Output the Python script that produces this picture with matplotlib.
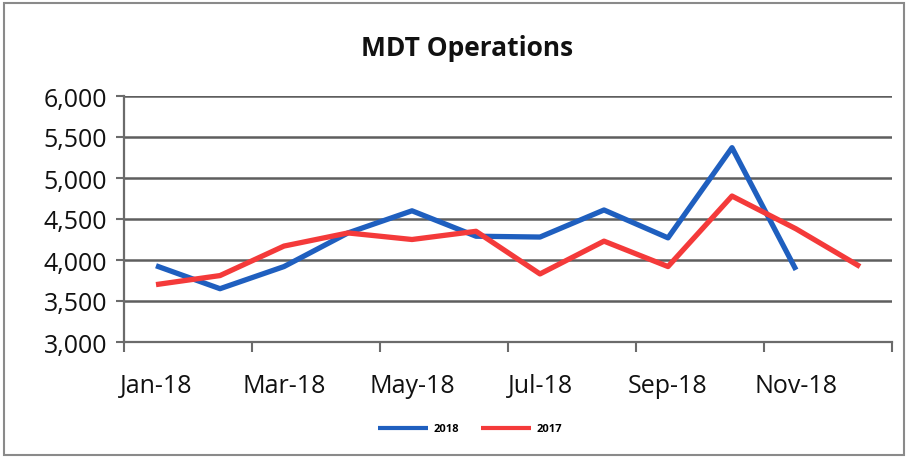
import matplotlib
matplotlib.use("Agg")
import matplotlib.pyplot as plt
from matplotlib.ticker import FuncFormatter

months = ["Jan-18", "Feb-18", "Mar-18", "Apr-18", "May-18", "Jun-18",
          "Jul-18", "Aug-18", "Sep-18", "Oct-18", "Nov-18", "Dec-18"]
ops_2018 = [3930, 3650, 3920, 4330, 4600, 4290, 4280, 4610, 4270, 5370, 3880]
ops_2017 = [3700, 3810, 4170, 4330, 4250, 4350, 3830, 4230, 3920, 4780, 4380, 3920]
yticks = [3000, 3500, 4000, 4500, 5000, 5500, 6000]

plt.rcParams['font.family'] = ['Open Sans', 'DejaVu Sans']

fig = plt.figure(figsize=(9.09, 4.6), dpi=100)
ax = fig.add_axes([124/909, 1-343/460, (892-124)/909, (343-97)/460])

x18 = list(range(len(ops_2018)))
x17 = list(range(len(ops_2017)))
ax.plot(x18, ops_2018, color="#1f5fbf", lw=3.8, label="2018", solid_capstyle="butt", zorder=3)
ax.plot(x17, ops_2017, color="#f43a3a", lw=3.8, label="2017", solid_capstyle="butt", zorder=3)

ax.set_xlim(-0.5, len(months)-0.5)
ax.set_ylim(yticks[0], yticks[-1])
ax.set_yticks(yticks)
ax.yaxis.set_major_formatter(FuncFormatter(lambda v, p: f"{int(v):,}"))
ax.grid(axis="y", color="#5e5e5e", lw=1.8)
ax.set_axisbelow(True)

# boundary ticks every two months, labels on odd months
ax.set_xticks([i - 0.5 for i in range(0, len(months)+1, 2)])
ax.set_xticklabels([])
ax.set_xticks(list(range(0, len(months), 2)), minor=True)
ax.set_xticklabels(months[0::2], minor=True)
ax.tick_params(axis="x", which="major", length=7, width=1.5, color="#6b6b6b", direction="out")
ax.tick_params(axis="x", which="minor", length=0, pad=22, labelsize=18, labelcolor="#111111")
ax.tick_params(axis="y", length=6, width=1.5, color="#6b6b6b", labelsize=18, labelcolor="#111111", pad=6)

for s in ["top", "right"]:
    ax.spines[s].set_visible(False)
ax.spines["left"].set_color("#6b6b6b")
ax.spines["left"].set_linewidth(1.6)
ax.spines["bottom"].set_color("#6b6b6b")
ax.spines["bottom"].set_linewidth(1.6)

fig.text(467/909, 1-48/460, "MDT Operations", ha="center", va="center",
         fontsize=19, fontweight="bold", color="#111111")

leg = fig.legend(loc="center", bbox_to_anchor=(470/909, 1-430/460), ncol=2, frameon=False,
                 prop={"size": 8, "weight": "bold"}, handlelength=4.5, columnspacing=2, handletextpad=0.5)
for line in leg.get_lines():
    line.set_linewidth(3)

# outer chart frame
fig.patches.append(plt.Rectangle((4/909, 4/460), 900/909, 1-8/460, transform=fig.transFigure,
                                 fill=False, edgecolor="#8a8a8a", lw=1.5))

fig.savefig("out.png", dpi=100)
